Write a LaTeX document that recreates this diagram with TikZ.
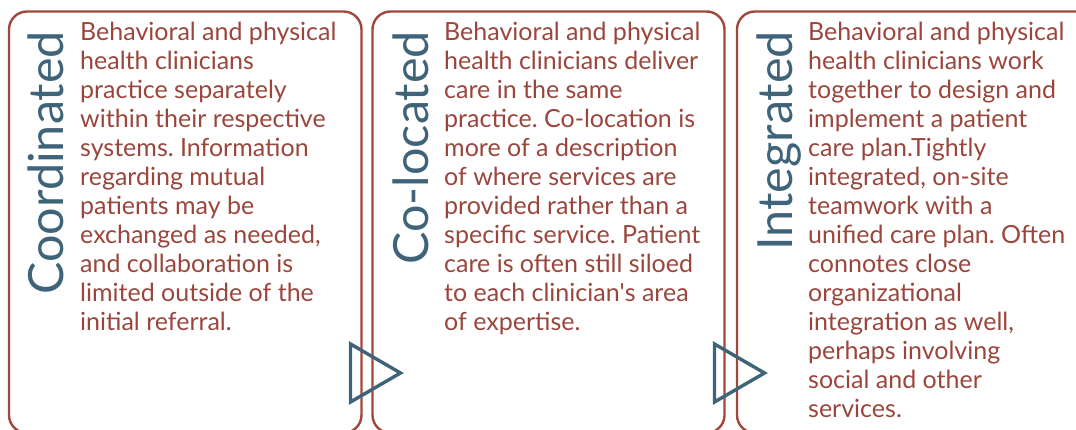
\documentclass[tikz,border=0pt]{standalone}
\usepackage{fontspec}
\setmainfont{Lato}
\newfontfamily\titlefont{Lato}
\definecolor{frame}{HTML}{A0483E}
\definecolor{bodyred}{HTML}{9A463C}
\definecolor{slate}{HTML}{3F6479}
\tikzset{
  panel/.style={draw=frame, line width=2.4pt, rounded corners=18pt},
  heading/.style={text=slate, font=\titlefont\fontsize{48.5}{48}\selectfont,
    rotate=90, anchor=base east, inner sep=0pt},
  blurb/.style={text=bodyred, anchor=base west, inner sep=0pt},
  flow/.style={draw=slate, line width=3.4pt, line join=miter},
}
\newcommand{\blurbtext}[1]{\parbox[t]{280pt}{\fontsize{25}{29}\selectfont\frenchspacing\raggedright #1}}
\begin{document}
\begin{tikzpicture}[x=1pt,y=-1pt]
\useasboundingbox (0,0) rectangle (1076,430);
% three stages, bottoms run past the lower edge
\draw[panel] (9,11.5) rectangle (361.5,433);
\draw[panel] (372.5,11.5) rectangle (724.5,433);
\draw[panel] (737,11.5) rectangle (1100,433);
% vertical headings
\node[heading] (h1) at (63.5,31) {Coordinated};
\node[heading] (h2) at (428,31) {Co-located};
\node[heading] (h3) at (792.5,31) {Integrated};
% descriptions
\node[blurb] (t1) at (80,41) {\blurbtext{Behavioral and physical\\
health clinicians\\
practice separately\\
within their respective\\
systems. Information\\
regarding mutual\\
patients may be\\
exchanged as needed,\\
and collaboration is\\
limited outside of the\\
initial referral.}};
\node[blurb] (t2) at (444,41) {\blurbtext{Behavioral and physical\\
health clinicians deliver\\
care in the same\\
practice. Co-location is\\
more of a description\\
of where services are\\
provided rather than a\\
specific service. Patient\\
care is often still siloed\\
to each clinician\textquotesingle s area\\
of expertise.}};
\node[blurb] (t3) at (808,41) {\blurbtext{Behavioral and physical\\
health clinicians work\\
together to design and\\
implement a patient\\
care plan.Tightly\\
integrated, on-site\\
teamwork with a\\
unified care plan. Often\\
connotes close\\
organizational\\
integration as well,\\
perhaps involving\\
social and other\\
services.}};
% progression arrows between stages
\draw[flow] (350.5,344) -- (400.5,373) -- (350.5,402) -- cycle;
\draw[flow] (714.5,344) -- (764.5,373) -- (714.5,402) -- cycle;
\end{tikzpicture}
\end{document}
